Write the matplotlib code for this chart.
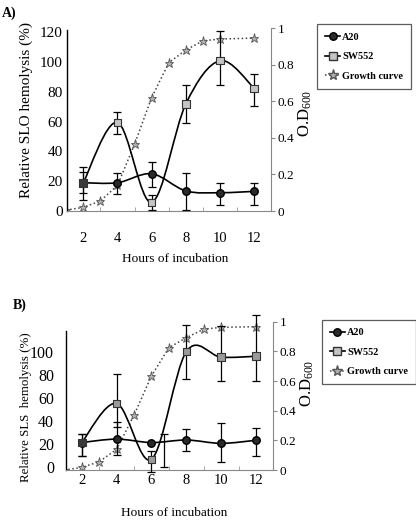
import numpy as np
import matplotlib
matplotlib.use("Agg")
import matplotlib.pyplot as plt
from matplotlib.path import Path
from matplotlib.patches import PathPatch
from matplotlib.lines import Line2D

plt.rcParams['font.family'] = ['Liberation Serif', 'DejaVu Serif']
plt.rcParams['mathtext.default'] = 'regular'

# ---- data ----
hours = [2, 4, 6, 8, 10, 12]
growth_hours = [1, 2, 3, 4, 5, 6, 7, 8, 9, 10, 12]

# panel A (SLO)
a_a20 = [19, 19, 25, 13.5, 12.3, 13.2]
a_a20_lo = [12, 11.5, 16, 0.7, 4, 4]
a_a20_hi = [26, 25.7, 33, 25.7, 18.6, 18.6]
a_sw = [19, 59.5, 5.8, 72, 101, 82.4]
a_sw_lo = [7.4, 51.7, 0.7, 58.9, 84.6, 70.4]
a_sw_hi = [29.8, 66.3, 10.7, 84.8, 120.9, 92]
a_growth = [0.005, 0.02, 0.055, 0.14, 0.365, 0.62, 0.81, 0.88, 0.93, 0.94, 0.945]

# panel B (SLS)
b_a20 = [21, 24, 21, 23.2, 20.3, 23]
b_a20_bar_hours = [2, 4, 6.7, 8, 10, 12]   # the 6 h bar sits off to the side in the original
b_a20_bar_mid = [21, 24, 14.2, 23.2, 20.3, 23]
b_a20_lo = [9.6, 10.2, 0, 13.9, 4.4, 9.3]
b_a20_hi = [28.4, 38.6, 28.4, 32.8, 37.7, 33.4]
b_sw = [21, 55, 6.4, 100, 95.2, 96]
b_sw_lo = [9.6, 34.8, -4.3, 76.2, 74.8, 74.8]
b_sw_hi = [28.4, 80.3, 13.6, 123, 122.6, 132]
b_growth = [0, 0.018, 0.056, 0.14, 0.37, 0.634, 0.825, 0.892, 0.949, 0.962, 0.966]

legend_labels = ['A20', 'SW552', 'Growth curve']


def smooth_path(xs, ys):
    # excel-like smoothed line as cubic bezier through the points
    pts = list(zip(xs, ys))
    n = len(pts)
    verts = [pts[0]]
    codes = [Path.MOVETO]
    for i in range(n - 1):
        p0 = pts[i - 1] if i > 0 else pts[i]
        p1 = pts[i]
        p2 = pts[i + 1]
        p3 = pts[i + 2] if i + 2 < n else pts[i + 1]
        c1 = (p1[0] + (p2[0] - p0[0]) / 6, p1[1] + (p2[1] - p0[1]) / 6)
        c2 = (p2[0] - (p3[0] - p1[0]) / 6, p2[1] - (p3[1] - p1[1]) / 6)
        verts += [c1, c2, p2]
        codes += [Path.CURVE4] * 3
    return Path(verts, codes)


def err(vals, lo, hi):
    v = np.array(vals)
    return [v - np.array(lo), np.array(hi) - v]


def panel(rect, xlim, ylim, ylim2, bounds, a20, a20x, a20mid, a20lo, a20hi,
          sw, swlo, swhi, growth, sq_color, lsize, lpad, xpad):
    ax = fig.add_axes(rect)
    ax.set_xlim(*xlim)
    ax.set_ylim(*ylim)
    ax.spines['top'].set_visible(False)
    ax.spines['right'].set_visible(False)
    ax.spines['left'].set_bounds(*bounds)
    ax.spines['left'].set_linewidth(1.0)
    ax.spines['bottom'].set_color('#888888')
    ax.spines['bottom'].set_linewidth(0.8)
    ax.set_xticks(hours)
    ax.set_xticks([3, 5, 7, 9, 11], minor=True)
    ax.tick_params(axis='x', which='major', length=0, pad=xpad, labelsize=10.5)
    ax.tick_params(axis='x', which='minor', length=3, direction='in', color='#999999')
    ax.tick_params(axis='y', length=0, pad=lpad, labelsize=lsize)

    ax2 = ax.twinx()
    ax2.set_ylim(*ylim2)
    ax2.set_yticks([0, 0.2, 0.4, 0.6, 0.8, 1])
    ax2.set_yticklabels(['0', '0.2', '0.4', '0.6', '0.8', '1'])
    for s in ['top', 'left', 'bottom']:
        ax2.spines[s].set_visible(False)
    ax2.spines['right'].set_color('#888888')
    ax2.spines['right'].set_linewidth(0.8)
    ax2.tick_params(axis='y', length=3, color='#888888', labelsize=9.5, pad=2)

    # growth curve on the O.D. axis
    ax2.plot(growth_hours, growth, linestyle=':', color='#444444', lw=1.1,
             marker='*', markersize=6.5, markerfacecolor='#b0b0b0',
             markeredgecolor='#555555', markeredgewidth=0.6, zorder=2)

    # smoothed lines
    ax2.set_zorder(ax.get_zorder() - 1)
    ax.patch.set_visible(False)
    ax.add_patch(PathPatch(smooth_path(hours, a20), fill=False, lw=1.2,
                           edgecolor='black', zorder=3))
    ax.add_patch(PathPatch(smooth_path(hours, sw), fill=False, lw=1.2,
                           edgecolor='black', zorder=3))

    ax.errorbar(a20x, a20mid, yerr=err(a20mid, a20lo, a20hi), fmt='none',
                ecolor='black', elinewidth=0.9, capsize=2.7, capthick=0.9,
                zorder=4, clip_on=False)
    ax.errorbar(hours, sw, yerr=err(sw, swlo, swhi), fmt='none',
                ecolor='black', elinewidth=0.9, capsize=2.7, capthick=0.9,
                zorder=4, clip_on=False)
    ax.plot(hours, a20, linestyle='none', marker='o', markersize=5.4,
            markerfacecolor='#2a2a2a', markeredgecolor='black', zorder=5)
    sq_faces = ['#3a3a3a'] + [sq_color] * (len(hours) - 1)
    ax.scatter(hours, sw, marker='s', s=30, c=sq_faces, edgecolors='#333333',
               linewidths=0.8, zorder=6)
    return ax, ax2


fig = plt.figure(figsize=(4.16, 5.2), dpi=100)

# ---- A ----
axA, axA2 = panel([0.1611, 0.5942, 0.4904, 0.3519], (1.05, 12.98), (0, 122.9),
                  (0, 1.0), (0, 121.5), a_a20, hours, a_a20, a_a20_lo, a_a20_hi,
                  a_sw, a_sw_lo, a_sw_hi, a_growth, '#c4c4c4', 11, 3, 15)
axA.set_yticks([0, 20, 40, 60, 80, 100, 120])

# ---- B ----
axB, axB2 = panel([0.158, 0.0952, 0.4976, 0.2862], (1.08, 12.96), (-3.3, 126.1),
                  (-0.003, 1.0), (-3.3, 118), b_a20, b_a20_bar_hours,
                  b_a20_bar_mid, b_a20_lo, b_a20_hi, b_sw, b_sw_lo, b_sw_hi,
                  b_growth, '#9a9a9a', 11.5, 8.5, 2.5)
axB.set_yticks([0, 20, 40, 60, 80, 100])

# labels
fig.text(0.004, 0.988, 'A)', fontsize=10, fontweight='bold', va='top')
fig.text(0.03, 0.425, 'B)', fontsize=10, fontweight='bold', va='top')
fig.text(0.063, 0.788, 'Relative SLO hemolysis (%)', rotation=90,
         ha='center', va='center', fontsize=11)
fig.text(0.062, 0.218, 'Relative SLS  hemolysis (%)', rotation=90,
         ha='center', va='center', fontsize=9.3)
fig.text(0.733, 0.783, 'O.D$_{600}$', rotation=90, ha='center', va='center',
         fontsize=12)
fig.text(0.738, 0.263, 'O.D$_{600}$', rotation=90, ha='center', va='center',
         fontsize=12)
fig.text(0.42, 0.502, 'Hours of incubation', ha='center', va='center',
         fontsize=9.5)
fig.text(0.419, 0.014, 'Hours of incubation', ha='center', va='center',
         fontsize=9.5)

# legends
handles = [
    Line2D([], [], color='black', lw=1.2, marker='o', markersize=5.4,
           markerfacecolor='#2a2a2a', markeredgecolor='black'),
    Line2D([], [], color='black', lw=1.2, marker='s', markersize=5.4,
           markerfacecolor='#c4c4c4', markeredgecolor='#333333'),
    Line2D([], [], color='#444444', lw=1.1, linestyle=':', marker='*',
           markersize=8, markerfacecolor='#b0b0b0', markeredgecolor='#555555'),
]
for anchor in [(0.761, 0.953), (0.773, 0.385)]:
    lg = fig.legend(handles, legend_labels, loc='upper left',
                    bbox_to_anchor=anchor, prop={'weight': 'bold', 'size': 7.4},
                    frameon=True, fancybox=False, edgecolor='#333333',
                    handlelength=1.5, handletextpad=0.2, labelspacing=1.0,
                    borderpad=0.8, borderaxespad=0)
    lg.get_frame().set_linewidth(0.9)

fig.savefig('out.png', dpi=100)
